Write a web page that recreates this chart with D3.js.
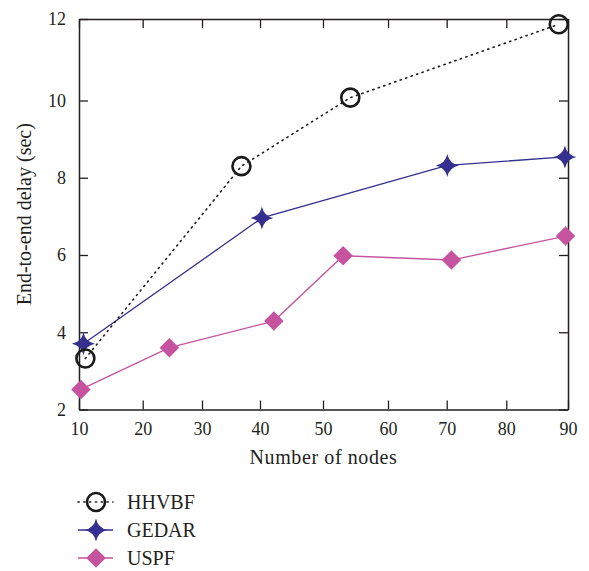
<!DOCTYPE html>
<html><head><meta charset="utf-8">
<script src="https://cdn.jsdelivr.net/npm/d3@7"></script>
<style>body{margin:0;background:#fff}svg{display:block}text{font-family:"Liberation Serif","DejaVu Serif",serif;fill:#231f20}</style>
</head><body><svg id="c" width="589" height="571"></svg>
<script>
const seriesNames = ["HHVBF", "GEDAR", "USPF"];
const hhvbfX = [11, 36.8, 54.2, 88.5];
const hhvbfY = [3.32, 8.3, 10.07, 11.87];
const gedarX = [10.7, 40.3, 70.1, 89.5];
const gedarY = [3.7, 6.96, 8.32, 8.54];
const uspfX = [10.3, 24.5, 42.2, 53.1, 70.8, 89.6];
const uspfY = [2.52, 3.6, 4.29, 5.98, 5.87, 6.49];
const xTicks = [10, 20, 30, 40, 50, 60, 70, 80, 90];
const yTicks = [2, 4, 6, 8, 10, 12];
const xLabel = "Number of nodes";
const yLabel = "End-to-end delay (sec)";

const svg = d3.select("#c");
const L = 79, R = 568, T = 19, B = 409.5;
// piecewise-linear scales following the reference's slightly uneven tick spacing
const x = d3.scaleLinear().domain(xTicks).range([L, 142.7, 202, 260, 323, 388, 446.7, 506.3, R]);
const y = d3.scaleLinear().domain([2, 10, 12]).range([B, 100.5, T]);
const axisCol = "#231f20";
const tickLen = 9;

const g = svg.append("g");
const ax = g.append("g").attr("transform", `translate(0,${B})`).call(d3.axisBottom(x).tickValues(xTicks).tickSize(-tickLen).tickPadding(13).tickSizeOuter(0));
const ay = g.append("g").attr("transform", `translate(${L},0)`).call(d3.axisLeft(y).tickValues(yTicks).tickSize(-tickLen).tickPadding(13).tickSizeOuter(0));
const axT = g.append("g").attr("transform", `translate(0,${T})`).call(d3.axisTop(x).tickValues(xTicks).tickSize(-tickLen).tickFormat("").tickSizeOuter(0));
const ayR = g.append("g").attr("transform", `translate(${R},0)`).call(d3.axisRight(y).tickValues(yTicks).tickSize(-tickLen).tickFormat("").tickSizeOuter(0));
[ax, ay, axT, ayR].forEach(a => {
  a.select(".domain").attr("stroke", axisCol).attr("stroke-width", 1.5);
  a.selectAll(".tick line").attr("stroke", axisCol).attr("stroke-width", 1.3);
  a.selectAll(".tick text").attr("font-size", 18).attr("font-family", "Liberation Serif").attr("fill", axisCol);
});
ay.selectAll(".tick text").attr("dy", "0.32em");

g.append("text").attr("x", (L + R) / 2).attr("y", 464).attr("text-anchor", "middle").attr("font-size", 20).attr("letter-spacing", 0.6).text(xLabel);
g.append("text").attr("transform", `translate(31,${(T + B) / 2}) rotate(-90)`).attr("text-anchor", "middle").attr("font-size", 20).text(yLabel);

function starPath(r, k) {
  const p = d3.path();
  const pts = [[0, -r], [r, 0], [0, r], [-r, 0]];
  p.moveTo(0, -r);
  for (let i = 0; i < 4; i++) {
    const a = pts[i], b = pts[(i + 1) % 4];
    p.quadraticCurveTo((a[0] + b[0]) * k, (a[1] + b[1]) * k, b[0], b[1]);
  }
  p.closePath();
  return p.toString();
}
const starD = starPath(11.5, 0.17);
const diamondD = d3.symbol(d3.symbolSquare, 190)();

const series = [
  {name: seriesNames[0], xs: hhvbfX, ys: hhvbfY, color: "#1a1a1a", dash: "1.2,4.6", width: 1.6, marker: "circle"},
  {name: seriesNames[1], xs: gedarX, ys: gedarY, color: "#35308f", dash: null, width: 1.3, marker: "star"},
  {name: seriesNames[2], xs: uspfX, ys: uspfY, color: "#c653a0", dash: null, width: 1.3, marker: "diamond"}
];
const line = d3.line().x(d => x(d[0])).y(d => y(d[1]));

function drawMarker(sel, s) {
  if (s.marker === "circle") {
    sel.append("circle").attr("r", 9).attr("fill", "none").attr("stroke", s.color).attr("stroke-width", 2.6);
  } else if (s.marker === "star") {
    sel.append("path").attr("d", starD).attr("fill", s.color);
  } else {
    sel.append("path").attr("d", diamondD).attr("transform", "rotate(45)").attr("fill", s.color);
  }
}

[2, 1, 0].forEach(i => {
  const s = series[i];
  const data = s.xs.map((v, j) => [v, s.ys[j]]);
  g.append("path").datum(data).attr("d", line).attr("fill", "none").attr("stroke", s.color)
    .attr("stroke-width", s.width).attr("stroke-dasharray", s.dash).attr("stroke-linecap", s.dash ? "round" : "butt");
});
[2, 1, 0].forEach(i => {
  const s = series[i];
  const data = s.xs.map((v, j) => [v, s.ys[j]]);
  g.selectAll(null).data(data).enter().append("g")
    .attr("transform", d => `translate(${x(d[0])},${y(d[1])})`)
    .each(function () { drawMarker(d3.select(this), s); });
});

const lg = svg.append("g");
const rowsY = [502, 530, 558];
series.forEach((s, i) => {
  const r = lg.append("g").attr("transform", `translate(0,${rowsY[i]})`);
  r.append("line").attr("x1", 78).attr("x2", 113).attr("stroke", s.color).attr("stroke-width", s.width)
    .attr("stroke-dasharray", s.dash).attr("stroke-linecap", s.dash ? "round" : "butt");
  const m = r.append("g").attr("transform", "translate(96,0)");
  drawMarker(m, s);
  r.append("text").attr("x", 127).attr("y", 0).attr("dy", "0.35em").attr("font-size", 20).text(s.name);
});
</script></body></html>
